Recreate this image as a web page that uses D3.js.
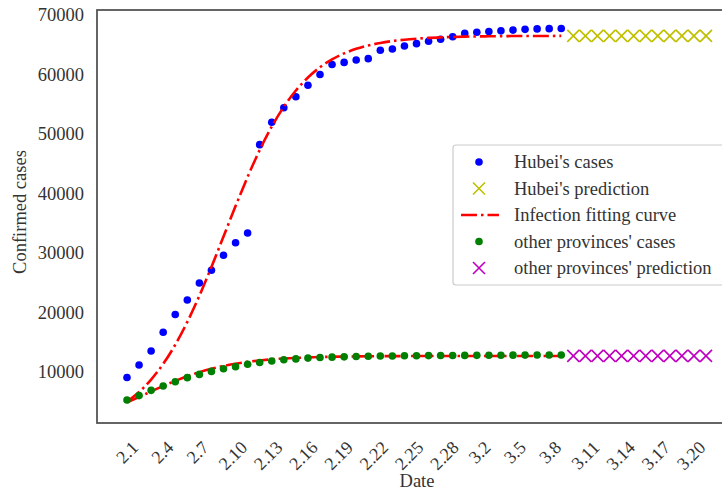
<!DOCTYPE html>
<html lang="en">
<head>
<meta charset="utf-8">
<title>Confirmed cases</title>
<script src="https://d3js.org/d3.v7.min.js"></script>
<style>
  body { margin: 0; background: #fff; }
  svg { font-family: "Liberation Serif", "DejaVu Serif", serif; }
</style>
</head>
<body>
<svg width="722" height="490"></svg>
<script>
// dates 2.1 .. 3.20 (day index 0..48), ticks every 3 days
var tickLabels = ["2.1","2.4","2.7","2.10","2.13","2.16","2.19","2.22","2.25","2.28","3.2","3.5","3.8","3.11","3.14","3.17","3.20"];
var yTicks = [10000, 20000, 30000, 40000, 50000, 60000, 70000];

// observed data, 2.1 .. 3.8 (index 0..36)
var hubeiCases = [9074, 11177, 13522, 16678, 19665, 22112, 24953, 27100, 29631, 31728,
  33366, 48206, 51986, 54406, 56249, 58182, 59989, 61682, 62031, 62442,
  62662, 64084, 64287, 64786, 65187, 65596, 65914, 66337, 66907, 67103,
  67217, 67332, 67466, 67592, 67666, 67707, 67743];
var otherCases = [5300, 6030, 6920, 7650, 8350, 9050, 9600, 10100, 10550, 10900,
  11290, 11600, 11860, 12050, 12200, 12340, 12430, 12500, 12550, 12600,
  12640, 12680, 12700, 12720, 12740, 12760, 12770, 12780, 12790, 12800,
  12810, 12820, 12830, 12840, 12850, 12855, 12860];

// fitted curves, index 0..36
var hubeiFit = [5000, 6640, 8730, 11360, 14580, 18420, 22810, 27660, 32760, 37890,
  42790, 47300, 51230, 54570, 57310, 59500, 61220, 62550, 63550, 64310,
  64880, 65300, 65620, 65850, 66020, 66150, 66240, 66310, 66360, 66400,
  66420, 66440, 66460, 66470, 66480, 66480, 66490];
var otherFit = [4900, 5800, 6730, 7650, 8500, 9280, 9970, 10540, 11020, 11400,
  11700, 11940, 12130, 12270, 12370, 12450, 12520, 12560, 12600, 12620,
  12640, 12660, 12670, 12675, 12680, 12685, 12690, 12690, 12695, 12695,
  12695, 12700, 12700, 12700, 12700, 12700, 12700];

// predictions 3.9 .. 3.20 (index 37..48)
var hubeiPred = [66490, 66490, 66495, 66495, 66495, 66500, 66500, 66500, 66500, 66500, 66500, 66500];
var otherPred = [12700, 12700, 12700, 12700, 12700, 12700, 12700, 12700, 12700, 12700, 12700, 12700];

var svg = d3.select("svg");
var plot = { left: 97, top: 10, right: 726, bottom: 423 };

var x = d3.scaleLinear().domain([0, 48]).range([127, 706]);
// tick labels sit on a slightly tighter spacing than the points in the original
var xTick = d3.scaleLinear().domain([0, 48]).range([127, 691]);
var y = d3.scaleLinear().domain([0, 70000]).range([431.5, 15]);

var textColor = "#333";

// frame
svg.append("rect")
    .attr("x", plot.left).attr("y", plot.top)
    .attr("width", plot.right - plot.left).attr("height", plot.bottom - plot.top)
    .attr("fill", "none").attr("stroke", "#555").attr("stroke-width", 1.8);

// y tick labels
svg.append("g").selectAll("text")
    .data(yTicks)
  .enter().append("text")
    .attr("x", 84)
    .attr("y", function(d) { return y(d); })
    .attr("dy", "0.35em")
    .attr("text-anchor", "end")
    .attr("font-size", 18.5)
    .attr("fill", textColor)
    .text(function(d) { return d; });

// x tick labels, rotated 45
var xt = svg.append("g").selectAll("text")
    .data(tickLabels)
  .enter().append("text")
    .attr("text-anchor", "middle")
    .attr("dy", "0.35em")
    .attr("font-size", 18)
    .attr("fill", textColor)
    .text(function(d) { return d; });
xt.each(function(d, i) {
  var w = this.getComputedTextLength(), h = 12;
  var cy = 440 + (w + h) / (2 * Math.SQRT2);
  d3.select(this).attr("transform", "translate(" + xTick(i * 3) + "," + cy + ") rotate(-45)");
});

// axis labels
svg.append("text")
    .attr("x", 417).attr("y", 487)
    .attr("text-anchor", "middle")
    .attr("font-size", 18.5)
    .attr("fill", textColor)
    .text("Date");
svg.append("text")
    .attr("transform", "translate(20,212) rotate(-90)")
    .attr("dy", "0.35em")
    .attr("text-anchor", "middle")
    .attr("font-size", 18.5)
    .attr("fill", textColor)
    .text("Confirmed cases");

function cross(g, cx, cy, s, color) {
  g.append("path")
      .attr("d", "M" + (cx - s) + "," + (cy - s) + "L" + (cx + s) + "," + (cy + s) +
                 "M" + (cx - s) + "," + (cy + s) + "L" + (cx + s) + "," + (cy - s))
      .attr("stroke", color).attr("stroke-width", 1.6).attr("fill", "none");
}

var dash = "16,4,2.5,4";
var line = d3.line()
    .x(function(d, i) { return x(i); })
    .y(function(d) { return y(d); })
    .curve(d3.curveMonotoneX);

// Hubei cases
svg.append("g").selectAll("circle")
    .data(hubeiCases)
  .enter().append("circle")
    .attr("cx", function(d, i) { return x(i); })
    .attr("cy", function(d) { return y(d); })
    .attr("r", 3.8)
    .attr("fill", "#0000ff");

// Hubei prediction
var gp = svg.append("g");
hubeiPred.forEach(function(d, i) { cross(gp, x(37 + i), y(d), 6, "#bfbf00"); });

// fitting curves
[hubeiFit, otherFit].forEach(function(arr) {
  svg.append("path")
      .attr("d", line(arr))
      .attr("fill", "none")
      .attr("stroke", "#ff0000")
      .attr("stroke-width", 2.6)
      .attr("stroke-dasharray", dash);
});

// other provinces cases
svg.append("g").selectAll("circle")
    .data(otherCases)
  .enter().append("circle")
    .attr("cx", function(d, i) { return x(i); })
    .attr("cy", function(d) { return y(d); })
    .attr("r", 3.8)
    .attr("fill", "#008000");

// other provinces prediction
var gm = svg.append("g");
otherPred.forEach(function(d, i) { cross(gm, x(37 + i), y(d), 6, "#bf00bf"); });

// legend
var lg = svg.append("g");
lg.append("rect")
    .attr("x", 453).attr("y", 145)
    .attr("width", 290).attr("height", 140)
    .attr("rx", 3)
    .attr("fill", "#fff").attr("fill-opacity", 0.85)
    .attr("stroke", "#ccc").attr("stroke-width", 1.2);

var entries = ["Hubei's cases", "Hubei's prediction", "Infection fitting curve",
               "other provinces' cases", "other provinces' prediction"];
entries.forEach(function(name, i) {
  var ly = 162 + i * 26.5;
  if (i === 0 || i === 3) {
    lg.append("circle").attr("cx", 479).attr("cy", ly).attr("r", 3.8)
        .attr("fill", i === 0 ? "#0000ff" : "#008000");
  } else if (i === 1 || i === 4) {
    cross(lg, 479, ly, 6, i === 1 ? "#bfbf00" : "#bf00bf");
  } else {
    lg.append("line").attr("x1", 461).attr("x2", 499).attr("y1", ly).attr("y2", ly)
        .attr("stroke", "#ff0000").attr("stroke-width", 2.6)
        .attr("stroke-dasharray", dash);
  }
  lg.append("text")
      .attr("x", 514).attr("y", ly)
      .attr("dy", "0.35em")
      .attr("font-size", 18.5)
      .attr("fill", textColor)
      .text(name);
});
</script>
</body>
</html>
